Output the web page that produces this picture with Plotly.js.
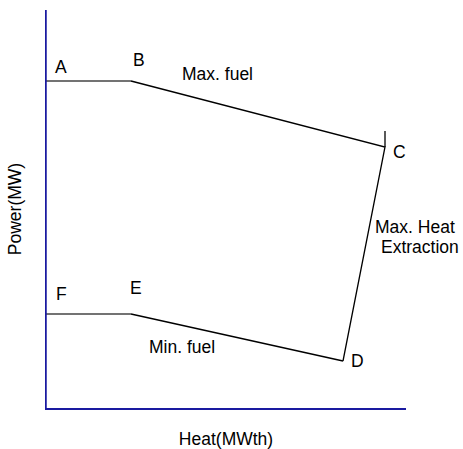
<!DOCTYPE html>
<html>
<head>
<meta charset="utf-8">
<script src="https://cdn.plot.ly/plotly-3.0.1.min.js"></script>
<style>html,body{margin:0;padding:0;background:#fff;}#chart{width:463px;height:449px;}</style>
</head>
<body>
<div id="chart"></div>
<script>
// Operating region vertices (Heat, Power) in arbitrary units
const pointNames = ["A", "B", "C", "D", "E", "F"];
const heat  = [0, 85, 339, 297, 85, 0];
const power = [327, 327, 261, 47, 94, 94];
// small vertical mark above C
const cMarkHeat = [339, 339];
const cMarkPower = [261, 277];
// edge labels (Max. Heat / Extraction placed in paper units, right of the plot)
const edgeLabels = ["Max. fuel", "Min. fuel"];
const edgeLabelX = [171, 136];
const edgeLabelY = [334, 61];
const sideLabels = ["Max. Heat", "Extraction"];
const sideLabelX = [1.026, 1.04];
const sideLabelY = [0.455, 0.405];
// point label positions
const ptLabelX = [15, 93, 353, 311, 90, 15];
const ptLabelY = [341, 348, 256, 47, 120, 114];

const font = {family: "Liberation Sans, Arial, sans-serif", size: 17.5, color: "#000"};
const axisColor = "#1a1aa0";

const traces = [
  {x: heat.slice(0, 2), y: power.slice(0, 2), mode: "lines", line: {color: "#444", width: 1.6}, hoverinfo: "skip", showlegend: false, cliponaxis: false},
  {x: heat.slice(1, 4), y: power.slice(1, 4), mode: "lines", line: {color: "#000", width: 1.3}, hoverinfo: "skip", showlegend: false},
  {x: heat.slice(3, 5), y: power.slice(3, 5), mode: "lines", line: {color: "#000", width: 1.3}, hoverinfo: "skip", showlegend: false},
  {x: heat.slice(4, 6), y: power.slice(4, 6), mode: "lines", line: {color: "#444", width: 1.6}, hoverinfo: "skip", showlegend: false, cliponaxis: false},
  {x: cMarkHeat, y: cMarkPower, mode: "lines", line: {color: "#000", width: 1.3}, hoverinfo: "skip", showlegend: false}
];

const annotations = [];
pointNames.forEach((n, i) => annotations.push({x: ptLabelX[i], y: ptLabelY[i], xref: "x", yref: "y", text: n, showarrow: false, font: font}));
edgeLabels.forEach((t, i) => annotations.push({x: edgeLabelX[i], y: edgeLabelY[i], xref: "x", yref: "y", text: t, showarrow: false, font: font}));
sideLabels.forEach((t, i) => annotations.push({x: sideLabelX[i], y: sideLabelY[i], xref: "paper", yref: "paper", xanchor: "center", yanchor: "middle", text: t, showarrow: false, font: font}));

const layout = {
  width: 463, height: 449,
  margin: {l: 46, r: 57, t: 10, b: 41},
  paper_bgcolor: "#fff", plot_bgcolor: "#fff",
  showlegend: false,
  font: font,
  xaxis: {range: [0, 360], showline: true, linecolor: axisColor, linewidth: 1.5, showgrid: false, zeroline: false,
          showticklabels: false, ticks: "", fixedrange: true,
          title: {text: "Heat(MWth)", font: font, standoff: 24}},
  yaxis: {range: [0, 398], showline: true, linecolor: axisColor, linewidth: 1.5, showgrid: false, zeroline: false,
          anchor: "x", side: "left", mirror: false,
          showticklabels: false, ticks: "", fixedrange: true,
          title: {text: "Power(MW)", font: font, standoff: 18}},
  shapes: [
    {type: "line", xref: "paper", yref: "paper", x0: 0, x1: 0, y0: 0, y1: 1, line: {color: axisColor, width: 1.5}, layer: "above"}
  ],
  annotations: annotations
};

Plotly.newPlot("chart", traces, layout, {displayModeBar: false, staticPlot: true});
</script>
</body>
</html>
